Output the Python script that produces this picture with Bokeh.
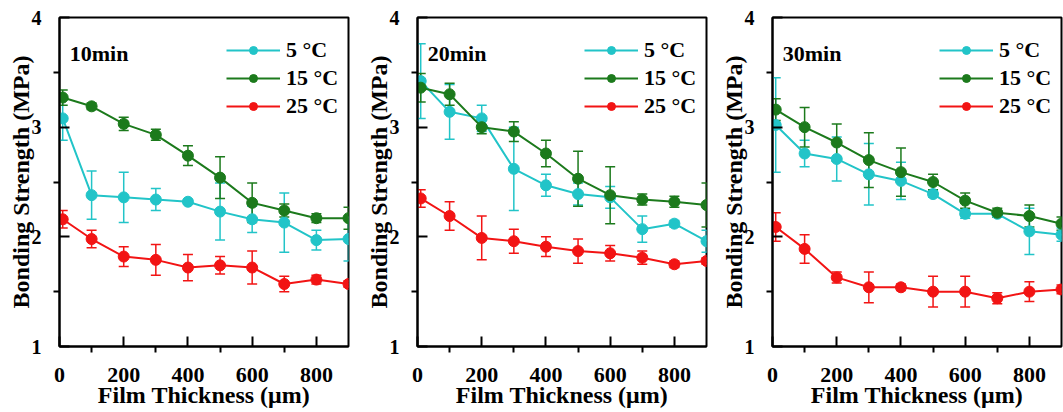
import numpy as np
from bokeh.plotting import figure
from bokeh.models import (Range1d, FixedTicker, Whisker, ColumnDataSource, Legend,
                          LegendItem, Label, TeeHead)
from bokeh.layouts import row
from bokeh.embed import file_html
from bokeh.resources import INLINE

# ---------------- data ----------------
thickness = [10, 100, 200, 300, 400, 500, 600, 700, 800, 900]
temp_labels = ["5 \u00b0C", "15 \u00b0C", "25 \u00b0C"]
time_labels = ["10min", "20min", "30min"]
x_ticks = [0, 200, 400, 600, 800]
x_minor = [100, 300, 500, 700]
y_ticks = [1, 2, 3, 4]
y_minor = [1.5, 2.5, 3.5]

# 10 min
t10_5 = [3.08, 2.38, 2.36, 2.34, 2.32, 2.23, 2.16, 2.13, 1.97, 1.98]
t10_5_err = [0.20, 0.22, 0.23, 0.10, 0.02, 0.26, 0.12, 0.27, 0.09, 0.20]
t10_15 = [3.27, 3.19, 3.03, 2.93, 2.74, 2.54, 2.31, 2.24, 2.17, 2.17]
t10_15_err = [0.07, 0.03, 0.06, 0.05, 0.09, 0.19, 0.18, 0.06, 0.04, 0.10]
t10_25 = [2.16, 1.98, 1.82, 1.79, 1.72, 1.74, 1.72, 1.57, 1.61, 1.57]
t10_25_err = [0.08, 0.08, 0.09, 0.14, 0.12, 0.08, 0.15, 0.07, 0.04, 0.03]

# 20 min
t20_5 = [3.42, 3.14, 3.08, 2.62, 2.47, 2.39, 2.36, 2.07, 2.12, 1.96]
t20_5_err = [0.34, 0.25, 0.12, 0.38, 0.10, 0.10, 0.10, 0.12, 0.03, 0.10]
t20_15 = [3.36, 3.30, 3.00, 2.96, 2.76, 2.53, 2.38, 2.34, 2.32, 2.29]
t20_15_err = [0.13, 0.10, 0.06, 0.09, 0.12, 0.25, 0.26, 0.05, 0.05, 0.20]
t20_25 = [2.35, 2.19, 1.99, 1.96, 1.91, 1.87, 1.85, 1.81, 1.75, 1.78]
t20_25_err = [0.08, 0.13, 0.20, 0.11, 0.09, 0.11, 0.07, 0.06, 0.03, 0.03]

# 30 min
t30_5 = [3.02, 2.76, 2.71, 2.57, 2.51, 2.39, 2.21, 2.21, 2.05, 2.02]
t30_5_err = [0.43, 0.12, 0.20, 0.28, 0.17, 0.03, 0.04, 0.03, 0.21, 0.06]
t30_15 = [3.16, 3.00, 2.86, 2.70, 2.59, 2.50, 2.33, 2.22, 2.19, 2.12]
t30_15_err = [0.10, 0.18, 0.17, 0.25, 0.22, 0.07, 0.07, 0.04, 0.10, 0.06]
t30_25 = [2.09, 1.89, 1.63, 1.54, 1.54, 1.50, 1.50, 1.44, 1.50, 1.52]
t30_25_err = [0.13, 0.13, 0.05, 0.14, 0.03, 0.14, 0.14, 0.05, 0.09, 0.04]

colors = ["#22C4C8", "#1C7A1C", "#F21414"]
FONT = "Liberation Serif"


def make_panel(title, series, errors, width, left, right):
    p = figure(width=width, height=412, x_range=Range1d(0, 900), y_range=Range1d(1, 4),
               output_backend="svg", toolbar_location=None,
               min_border_left=left, min_border_right=right,
               min_border_top=17, min_border_bottom=66)
    p.xgrid.visible = False
    p.ygrid.visible = False
    p.outline_line_color = "black"
    p.outline_line_width = 2
    p.outline_line_alpha = 1
    p.background_fill_color = "white"
    p.border_fill_color = "white"

    for ax in (p.xaxis[0], p.yaxis[0]):
        ax.axis_line_width = 2
        ax.major_tick_in = 10
        ax.major_tick_out = 0
        ax.minor_tick_in = 0
        ax.minor_tick_out = 6
        ax.major_tick_line_width = 2
        ax.minor_tick_line_width = 2
        ax.major_label_text_font = FONT
        ax.major_label_text_font_style = "bold"
        ax.major_label_text_color = "black"
        ax.axis_label_text_font = FONT
        ax.axis_label_text_font_style = "bold"
        ax.axis_label_text_font_size = "24px"
        ax.axis_label_text_color = "black"

    p.xaxis.ticker = FixedTicker(ticks=x_ticks, minor_ticks=x_minor)
    p.yaxis.ticker = FixedTicker(ticks=y_ticks, minor_ticks=y_minor)
    p.xaxis.major_label_text_font_size = "22px"
    p.yaxis.major_label_text_font_size = "20px"
    p.xaxis.major_label_standoff = 15
    p.yaxis.major_label_standoff = 12
    p.xaxis.axis_label = "Film Thickness (\u03bcm)"
    p.yaxis.axis_label = "Bonding Strength (MPa)"
    p.xaxis.axis_label_standoff = -3
    p.yaxis.axis_label_standoff = -5

    items = []
    for lab, ys, es, c in zip(temp_labels, series, errors, colors):
        ys = np.array(ys)
        es = np.array(es)
        src = ColumnDataSource(dict(x=thickness, y=ys, upper=ys + es, lower=ys - es))
        w = Whisker(base="x", upper="upper", lower="lower", source=src, dimension="height",
                    line_color=c, line_width=1.5,
                    upper_head=TeeHead(size=10, line_color=c, line_width=1.5),
                    lower_head=TeeHead(size=10, line_color=c, line_width=1.5))
        p.add_layout(w)
        lr = p.line("x", "y", source=src, line_color=c, line_width=2)
        sr = p.scatter("x", "y", source=src, size=11, fill_color=c, line_color=c)
        items.append(LegendItem(label=lab, renderers=[lr, sr]))

    leg = Legend(items=items, location=(167, 227), glyph_width=54, glyph_height=20,
                 label_height=20, spacing=2, padding=0, margin=0, label_standoff=6,
                 border_line_alpha=0, background_fill_alpha=0,
                 label_text_font=FONT, label_text_font_style="bold",
                 label_text_font_size="22px", label_text_color="black")
    p.add_layout(leg)

    p.add_layout(Label(x=32, y=3.67, text=title, text_font=FONT, text_font_style="bold",
                       text_font_size="22px", text_baseline="alphabetic", text_color="black"))
    return p


p1 = make_panel(time_labels[0], [t10_5, t10_15, t10_25], [t10_5_err, t10_15_err, t10_25_err],
                362, 59, 14)
p2 = make_panel(time_labels[1], [t20_5, t20_15, t20_25], [t20_5_err, t20_15_err, t20_25_err],
                355, 55, 11)
p3 = make_panel(time_labels[2], [t30_5, t30_15, t30_25], [t30_5_err, t30_15_err, t30_25_err],
                346, 55, 2)

layout = row(p1, p2, p3, spacing=0)
open("out.html", "w").write(file_html(layout, INLINE))
